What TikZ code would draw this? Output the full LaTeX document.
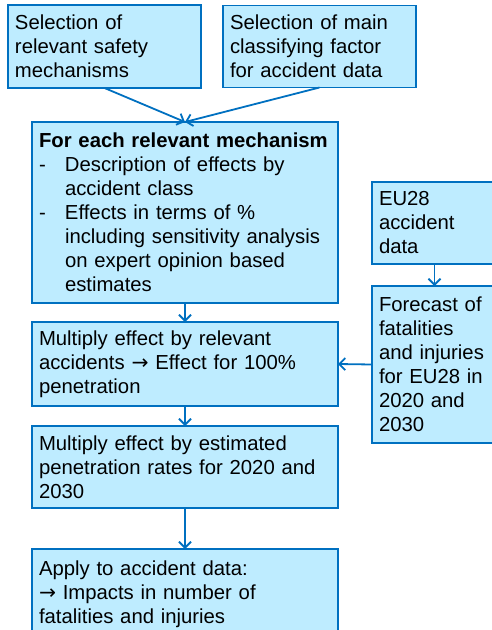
\documentclass[tikz,border=0pt]{standalone}
\usepackage{fontspec}
\setmainfont{Liberation Sans}
\newfontfamily\arrowfont{DejaVu Sans}
\usepackage{tikz}
\usetikzlibrary{arrows.meta, positioning}
\definecolor{flowblue}{RGB}{0, 112, 192}
\definecolor{flowfill}{RGB}{190, 236, 255}
\newcommand{\thenarrow}{{\arrowfont →}}

\begin{document}
\begin{tikzpicture}[
			box/.style={rectangle, draw=flowblue, fill=flowfill, line width=1.6pt, align=left, inner xsep=7pt, inner ysep=0pt, outer sep=0pt, font=\fontsize{20.3}{24}\selectfont},
			widebox/.style={box, text width=292pt},
			arrow/.style={-{Straight Barb[length=6pt, width=12pt]}, draw=flowblue, line width=1.8pt}
		]
		\useasboundingbox (0,0) rectangle (492pt,-630pt);
		% inputs on top
		\node[box, text width=179pt, minimum height=83pt, anchor=north west] (mechsel) at (8pt,-5pt) {Selection of\\relevant safety\\mechanisms};
		\node[box, text width=179pt, minimum height=82pt, right=22pt of mechsel] (factorsel) {Selection of main\\classifying factor\\for accident data};
		
		% main column
		\node[widebox, minimum height=181pt, anchor=north west] (effects) at (32pt,-122pt) {\textbf{For each relevant mechanism}\\
			\makebox[26pt][l]{-}Description of effects by\\
			\hspace*{26pt}accident class\\
			\makebox[26pt][l]{-}Effects in terms of \%\\
			\hspace*{26pt}including sensitivity analysis\\
			\hspace*{26pt}on expert opinion based\\
			\hspace*{26pt}estimates};
		\node[widebox, minimum height=84pt, below=19pt of effects] (fullpen) {Multiply effect by relevant\\accidents \thenarrow{} Effect for 100\%\\penetration};
		\node[widebox, minimum height=82pt, below=20pt of fullpen] (estpen) {Multiply effect by estimated\\penetration rates for 2020 and\\2030};
		\node[widebox, minimum height=90pt, below=41pt of estpen] (impacts) {Apply to accident data:\\\thenarrow{} Impacts in number of\\fatalities and injuries};
		
		% accident data column
		\node[box, text width=111pt, minimum height=82pt, anchor=north west] (eudata) at (372pt,-182pt) {EU28\\accident\\data};
		\node[box, text width=111pt, minimum height=157pt, below=22pt of eudata] (forecast) {Forecast of\\fatalities\\and injuries\\for EU28 in\\2020 and\\2030};
		
		\draw[arrow] (mechsel.south) -- (effects.north);
		\draw[arrow] (factorsel.south) -- (effects.north);
		\draw[arrow] (effects) -- (fullpen);
		\draw[arrow] (fullpen) -- (estpen);
		\draw[arrow] (estpen) -- (impacts);
		\draw[arrow] (eudata) -- (forecast);
		\draw[arrow] (forecast.west) -- (fullpen.east);
		\end{tikzpicture}
\end{document}
